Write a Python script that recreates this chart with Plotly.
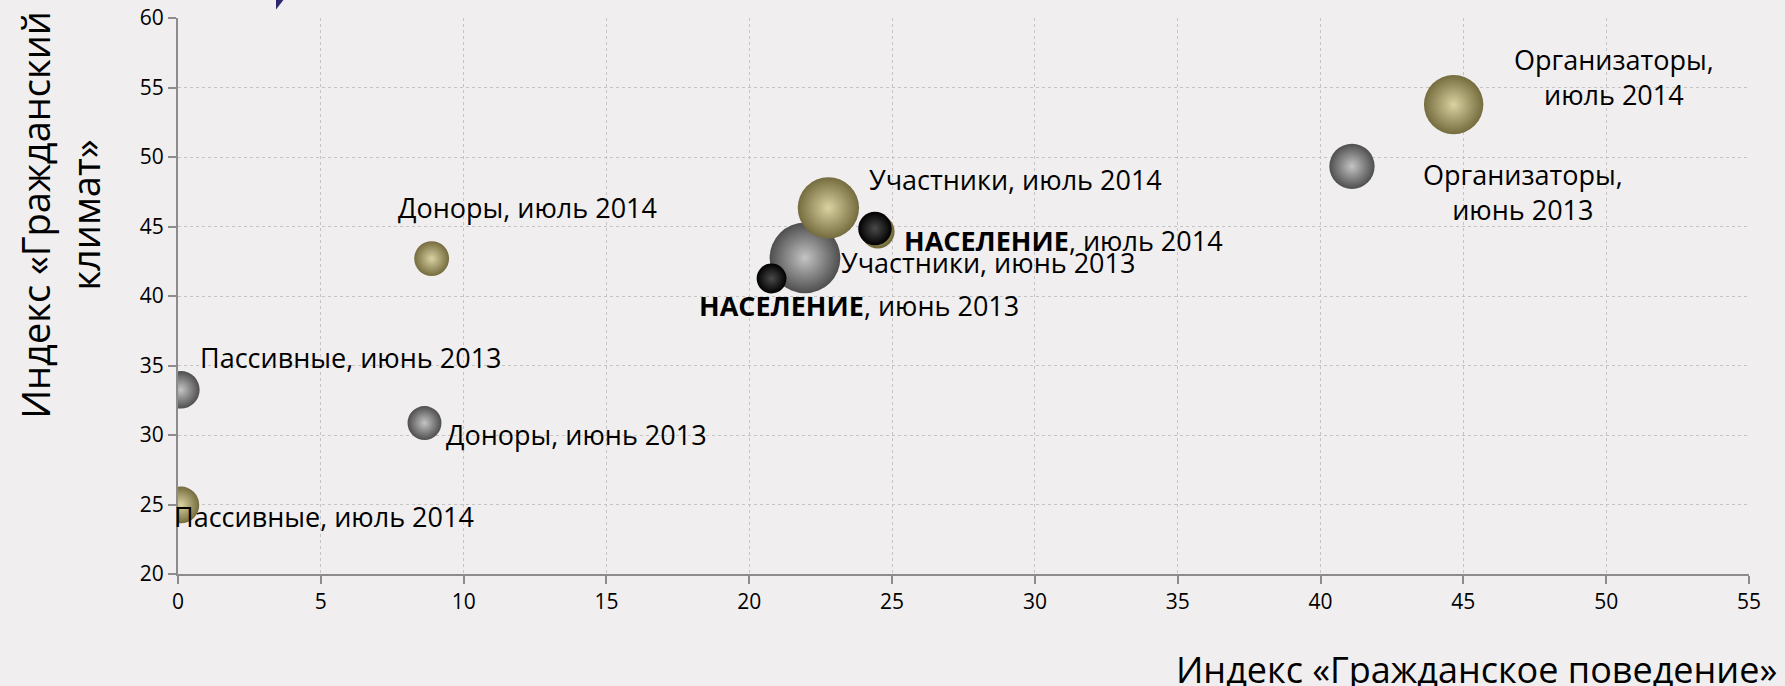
import plotly.graph_objects as go

# ---- data ----
labels_2013 = ["Организаторы,<br>июнь 2013", "Участники, июнь 2013", "Доноры, июнь 2013", "Пассивные, июнь 2013"]
x_2013 = [41.1, 21.95, 8.63, 0.1]
y_2013 = [49.33, 42.74, 30.86, 33.25]
s_2013 = [16.4, 40.0, 9.2, 11.3]

labels_2014 = ["Организаторы,<br>июль 2014", "Участники, июль 2014", "Доноры, июль 2014", "Пассивные, июль 2014"]
x_2014 = [44.66, 22.77, 8.88, 0.1]
y_2014 = [53.77, 46.34, 42.69, 24.97]
s_2014 = [28.2, 30.1, 9.7, 10.8]

labels_pop = ["<b>НАСЕЛЕНИЕ</b>, июнь 2013", "<b>НАСЕЛЕНИЕ</b>, июль 2014"]
x_pop = [20.78, 24.40]
y_pop = [41.26, 44.85]
s_pop = [7.1, 9.0]

# gold rim under the 2014 population bubble
x_pop_rim = [24.50]
y_pop_rim = [44.63]
s_pop_rim = [9.0]

x_ticks = list(range(0, 56, 5))
y_ticks = list(range(20, 61, 5))

x_title = "Индекс «Гражданское поведение»"
y_title = "Индекс «Гражданский<br>климат»"

FONT = "Open Sans"
SIZEREF = 40.0 / 50.0 ** 2

fig = go.Figure()

def bubbles(x, y, s, edge, center, name):
    fig.add_trace(go.Scatter(
        x=x, y=y, mode="markers", name=name, cliponaxis=True,
        marker=dict(size=s, sizemode="area", sizeref=SIZEREF, color=edge, opacity=1,
                    gradient=dict(type="radial", color=center),
                    line=dict(width=0)),
        showlegend=False, hoverinfo="skip"))

bubbles(x_2013, y_2013, s_2013, "#4E4E4E", "#C4C4C4", "2013")
bubbles(x_2014, y_2014, s_2014, "#746C3E", "#DAD2A0", "2014")
bubbles(x_pop_rim, y_pop_rim, s_pop_rim, "#6E6638", "#C9BF88", "rim")
bubbles(x_pop, y_pop, s_pop, "#000000", "#4A4A4A", "pop")

# ---- labels (offsets in px relative to the bubble) ----
label_font = dict(family=FONT, size=27, color="#000000")
offsets_2013 = [(171, -26, "center"), (34, -5, "left"), (19, -11, "left"), (17, 32, "left")]
offsets_2014 = [(160, 28, "center"), (39, 28, "left"), (-36, 51, "left"), (-9, -12, "left")]
offsets_pop = [(-75, -27, "left"), (27, -12, "left")]

for labs, xs, ys, offs in [(labels_2013, x_2013, y_2013, offsets_2013),
                           (labels_2014, x_2014, y_2014, offsets_2014),
                           (labels_pop, x_pop, y_pop, offsets_pop)]:
    for t, xv, yv, (dx, dy, anc) in zip(labs, xs, ys, offs):
        fig.add_annotation(x=xv, y=yv, xref="x", yref="y", text=t, showarrow=False,
                           xanchor=anc, yanchor="middle", xshift=dx, yshift=dy,
                           align="center", font=label_font)

# axis titles
fig.add_annotation(x=1, y=-0.172, xref="paper", yref="paper", text=x_title,
                   showarrow=False, xanchor="right", yanchor="middle", xshift=30,
                   font=dict(family=FONT, size=36, color="#000000"))
fig.add_annotation(x=-0.0751, y=0.646, xref="paper", yref="paper", text=y_title,
                   showarrow=False, textangle=-90, xanchor="center", yanchor="middle",
                   align="center", font=dict(family=FONT, size=38, color="#000000"))

# decorative purple arrow tip at top
fig.add_shape(type="path", xref="paper", yref="paper",
              path="M 0.0624 1.04 L 0.0692 1.04 L 0.0624 1.0153 Z",
              fillcolor="#2E2670", line=dict(width=0), layer="above")

axis_common = dict(showgrid=True, gridcolor="#C4C4C4", griddash="dot", gridwidth=1,
                   showline=True, linecolor="#8C8C8C", linewidth=2,
                   ticks="outside", ticklen=8, tickcolor="#8C8C8C", tickwidth=2,
                   zeroline=False, automargin=False,
                   tickfont=dict(family=FONT, size=21, color="#000000"))

fig.update_layout(
    width=1785, height=686,
    margin=dict(l=178, r=36, t=18, b=112, autoexpand=False),
    paper_bgcolor="#F0EEEE", plot_bgcolor="#F0EEEE",
    xaxis=dict(range=[0, 55], tickmode="array", tickvals=x_ticks, **axis_common),
    yaxis=dict(range=[20, 60], tickmode="array", tickvals=y_ticks, **axis_common),
)

fig.write_html("out.html", config={"displayModeBar": False},
               post_script="document.body.style.margin='0';document.body.style.padding='0';")
